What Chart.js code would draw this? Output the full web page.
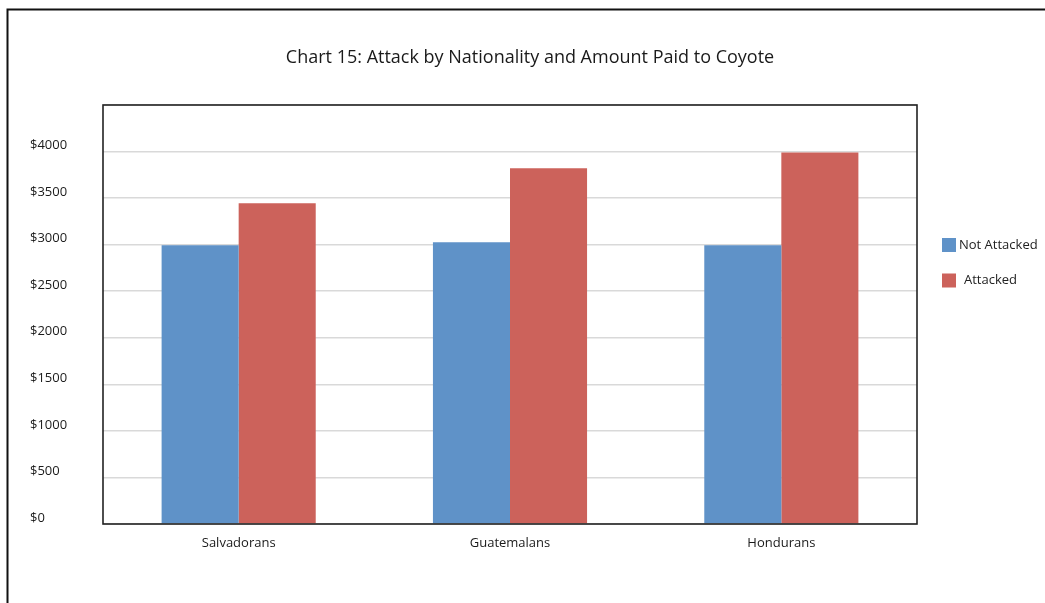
<!DOCTYPE html>
<html>
<head>
<meta charset="utf-8">
<script src="https://cdn.jsdelivr.net/npm/chart.js@4/dist/chart.umd.min.js"></script>
<style>
  html, body { margin: 0; padding: 0; background: #ffffff; }
  #wrap { width: 1045px; height: 603px; }
</style>
</head>
<body>
<div id="wrap"><canvas id="c" width="1045" height="603"></canvas></div>
<script>
// Average amount paid to the coyote, by nationality and whether the migrant was attacked
const chartTitle = 'Chart 15: Attack by Nationality and Amount Paid to Coyote';
const categories = ['Salvadorans', 'Guatemalans', 'Hondurans'];
const seriesNames = ['Not Attacked', 'Attacked'];
const notAttacked = [2995, 3025, 2995];
const attacked = [3445, 3820, 3990];
const yTickLabels = ['$0', '$500', '$1000', '$1500', '$2000', '$2500', '$3000', '$3500', '$4000'];

const BLUE = '#5f92c8';
const RED = '#cc625b';
const FONT = '"Open Sans", Lato, sans-serif';

// White page with a frame on the top and left edges
const frame = {
  id: 'frame',
  beforeDraw(chart) {
    const ctx = chart.ctx;
    ctx.save();
    ctx.fillStyle = '#ffffff';
    ctx.fillRect(0, 0, chart.width, chart.height);
    ctx.strokeStyle = '#111111';
    ctx.lineWidth = 2;
    ctx.beginPath();
    ctx.moveTo(chart.width, 9.5);
    ctx.lineTo(7.5, 9.5);
    ctx.lineTo(7.5, chart.height);
    ctx.stroke();
    ctx.restore();
  }
};

// Heading centred over the whole page
const heading = {
  id: 'heading',
  afterDraw(chart) {
    const ctx = chart.ctx;
    ctx.save();
    ctx.font = '18px ' + FONT;
    ctx.fillStyle = '#1a1a1a';
    ctx.textAlign = 'center';
    ctx.textBaseline = 'middle';
    ctx.fillText(chartTitle, 530, 58);
    ctx.restore();
  }
};

// Box around the plotting area
const plotBox = {
  id: 'plotBox',
  afterDatasetsDraw(chart) {
    const { ctx, chartArea: a } = chart;
    ctx.save();
    ctx.strokeStyle = '#222222';
    ctx.lineWidth = 1.6;
    ctx.strokeRect(a.left, a.top, a.right - a.left, a.bottom - a.top);
    ctx.restore();
  }
};

// Legend to the right of the plot: coloured squares with the series names
const sideLegend = {
  id: 'sideLegend',
  afterDraw(chart) {
    const { ctx, chartArea: a } = chart;
    ctx.save();
    ctx.font = '13px ' + FONT;
    ctx.textBaseline = 'middle';
    ctx.textAlign = 'left';
    chart.data.datasets.forEach((ds, i) => {
      const x = a.right + 25;
      const y = a.top + 133 + i * 35.5;
      ctx.fillStyle = ds.backgroundColor;
      ctx.fillRect(x, y, 14, 14);
      ctx.fillStyle = '#222222';
      ctx.fillText(ds.label, x + (i === 0 ? 17 : 22), y + 7);
    });
    ctx.restore();
  }
};

new Chart(document.getElementById('c'), {
  type: 'bar',
  data: {
    labels: categories,
    datasets: [
      { label: seriesNames[0], data: notAttacked, backgroundColor: BLUE },
      { label: seriesNames[1], data: attacked, backgroundColor: RED }
    ]
  },
  options: {
    responsive: false,
    animation: false,
    layout: { padding: { left: 30, right: 128, top: 105, bottom: 39 } },
    datasets: {
      bar: { categoryPercentage: 0.568, barPercentage: 1.0, borderWidth: 0 }
    },
    plugins: {
      legend: { display: false },
      tooltip: { enabled: false },
      title: { display: false }
    },
    scales: {
      x: {
        grid: { display: false, drawTicks: false },
        border: { display: false },
        ticks: {
          color: '#1a1a1a',
          padding: 11,
          font: { family: FONT, size: 13 }
        },
        afterFit(scale) { scale.height = 40; }
      },
      y: {
        min: 0,
        max: 4500,
        grid: { color: '#d9d9d9', lineWidth: 1.5, drawTicks: false },
        border: { display: false },
        ticks: {
          stepSize: 500,
          crossAlign: 'far',
          labelOffset: -6,
          color: '#1a1a1a',
          font: { family: FONT, size: 13 },
          callback: (v, i) => (yTickLabels[i] !== undefined ? yTickLabels[i] : '')
        },
        afterFit(scale) { scale.width = 73; }
      }
    }
  },
  plugins: [frame, plotBox, sideLegend, heading]
});
</script>
</body>
</html>
